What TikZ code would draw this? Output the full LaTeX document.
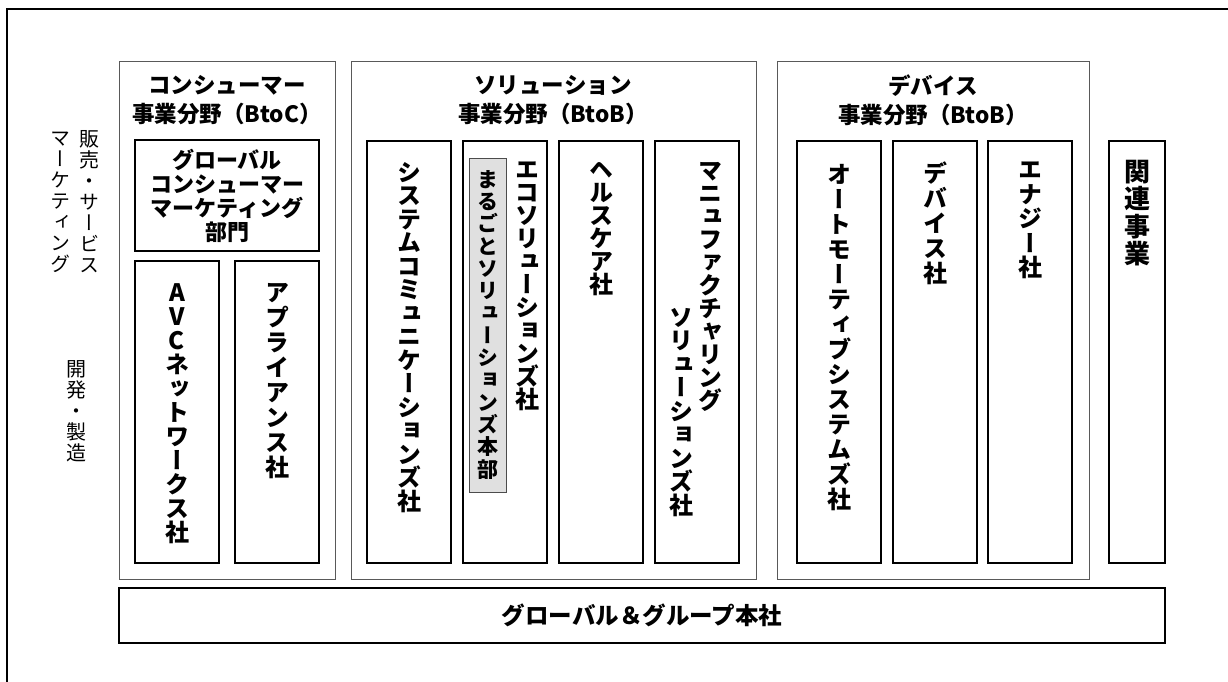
\documentclass[tikz,border=0pt]{standalone}
\usepackage{fontspec}
\newfontfamily\jp{Noto Sans CJK JP}
\newfontfamily\jpv[RawFeature=+vert]{Noto Sans CJK JP}
\makeatletter
\newcommand\tate[2]{\vbox{\baselineskip=#1\lineskip=0pt\lineskiplimit=-100pt
  \@tfor\tatec:=#2\do{\hbox to 1em{\hss\tatec\hss}}}}
\makeatother
\begin{document}
\begin{tikzpicture}[x=1pt,y=-1pt,
  frame/.style={draw=black,line width=1.6pt},
  catbox/.style={draw=black!65,line width=0.9pt,rectangle,inner sep=0pt},
  ibox/.style={draw=black,line width=1.1pt,rectangle,inner sep=0pt},
  graybox/.style={draw=black!70,fill=black!12,line width=0.9pt,rectangle,inner sep=0pt},
  vt/.style={inner sep=0pt,anchor=north,font=\jpv\bfseries\fontsize{24}{24}\selectfont},
  vtl/.style={inner sep=0pt,anchor=north,font=\jpv\fontsize{20}{21}\selectfont},
  ttl/.style={align=center,inner sep=0pt,font=\jp\bfseries\fontsize{22.5}{29}\selectfont}]
\useasboundingbox (0,0) rectangle (1228,682);
\clip (0,0) rectangle (1228,682);
\draw[frame] (7,9) rectangle (1300,760);
% category boxes
\node[catbox,minimum width=216pt,minimum height=518pt] (cons) at (227,320) {};
\node[catbox,minimum width=405pt,minimum height=518pt] (sol) at (553.5,320) {};
\node[catbox,minimum width=312pt,minimum height=518pt] (dev) at (933,320) {};
\node[ttl] (consT) at (227,100) {コンシューマー\\事業分野（BtoC）};
\node[ttl] (solT) at (553,100) {ソリューション\\事業分野（BtoB）};
\node[ttl] (devT) at (933,100) {デバイス\\事業分野（BtoB）};
% consumer
\node[ibox,minimum width=184pt,minimum height=111pt,align=center,
  font=\jp\bfseries\fontsize{22}{24}\selectfont] (gcm) at (227,195.5)
  {グローバル\\コンシューマー\\マーケティング\\部門};
\node[ibox,minimum width=84pt,minimum height=302pt] (avc) at (177,412) {};
\node[ibox,minimum width=84pt,minimum height=302pt] (appl) at (277,412) {};
\node[vt] (avcT) at (177,283) {\tate{24pt}{AVCネットワークス社}};
\node[vt] (applT) at (277,283) {\tate{25pt}{アプライアンス社}};
% solution
\node[ibox,minimum width=84pt,minimum height=422pt] (sys) at (409,352) {};
\node[ibox,minimum width=84pt,minimum height=422pt] (eco) at (505,352) {};
\node[graybox,minimum width=37pt,minimum height=334pt] (maru) at (487.5,325) {};
\node[ibox,minimum width=84pt,minimum height=422pt] (hc) at (601,352) {};
\node[ibox,minimum width=84pt,minimum height=422pt] (mfg) at (697,352) {};
\node[vt] (sysT) at (409,162) {\tate{23.5pt}{システムコミュニケーションズ社}};
\node[vt] (ecoT) at (527,162) {\tate{23pt}{エコソリューションズ社}};
\node[vt,font=\jpv\bfseries\fontsize{21}{22}\selectfont] (maruT) at (487.5,170) {\tate{22.3pt}{まるごとソリューションズ本部}};
\node[vt] (hcT) at (601,162) {\tate{23pt}{ヘルスケア社}};
\node[vt] (mfgT1) at (710,162) {\tate{23pt}{マニュファクチャリング}};
\node[vt] (mfgT2) at (681,308) {\tate{23.5pt}{ソリューションズ社}};
% device
\node[ibox,minimum width=84pt,minimum height=422pt] (auto) at (839,352) {};
\node[ibox,minimum width=84pt,minimum height=422pt] (dco) at (935,352) {};
\node[ibox,minimum width=84pt,minimum height=422pt] (ene) at (1030,352) {};
\node[vt] (autoT) at (839,164) {\tate{25pt}{オートモーティブシステムズ社}};
\node[vt] (dcoT) at (935,162) {\tate{25pt}{デバイス社}};
\node[vt] (eneT) at (1030,162) {\tate{24.5pt}{エナジー社}};
% related
\node[ibox,minimum width=56pt,minimum height=422pt] (rel) at (1137,352) {};
\node[vt,font=\jpv\bfseries\fontsize{26}{27}\selectfont] (relT) at (1137,160) {\tate{27.5pt}{関連事業}};
% HQ
\node[ibox,minimum width=1046pt,minimum height=55pt,
  font=\jp\bfseries\fontsize{23.5}{24}\selectfont] (hq) at (642,615.5) {グローバル＆グループ本社};
% left labels
\node[vtl] (lab1) at (89,130) {\tate{21pt}{販売・サービス}};
\node[vtl] (lab2) at (60,132) {\tate{21pt}{マーケティング}};
\node[vtl] (lab3) at (76,360) {\tate{21pt}{開発・製造}};
\end{tikzpicture}
\end{document}
